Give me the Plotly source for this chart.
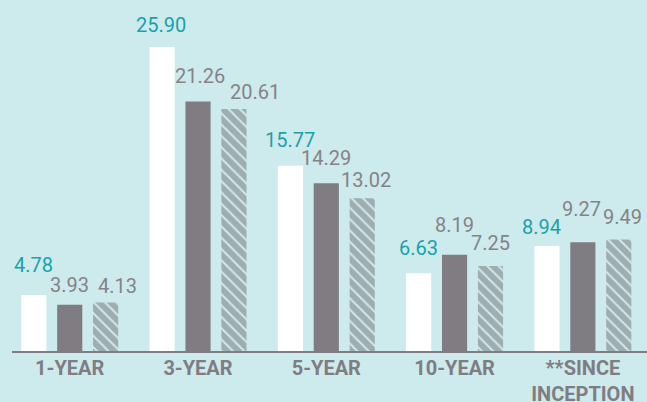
import plotly.graph_objects as go

categories = ["1-YEAR", "3-YEAR", "5-YEAR", "10-YEAR", "**SINCE<br>INCEPTION"]
fund = [4.78, 25.90, 15.77, 6.63, 8.94]
index_a = [3.93, 21.26, 14.29, 8.19, 9.27]
index_b = [4.13, 20.61, 13.02, 7.25, 9.49]

BG = "#cdeaec"
GRAY = "#7f7d82"
TEAL = "#17a2ac"
LABEL_GRAY = "#858387"

# label placement tweaks (pixels): horizontal nudge and gap above bar
label_dx = [[0, -1, 0, 0, -5], [0, 2, 0, 0, -1], [12, 21, 4, 0, 4]]
label_gap = [[21, 13, 17, 16, 10], [11, 16, 16, 21, 24], [8, 8, 9, 14, 14]]

fig = go.Figure()
fig.add_trace(go.Bar(x=categories, y=fund, marker=dict(color="white", line=dict(width=0))))
fig.add_trace(go.Bar(x=categories, y=index_a, marker=dict(color=GRAY, line=dict(width=0))))
fig.add_trace(go.Bar(x=categories, y=index_b,
                     marker=dict(color=BG, line=dict(width=0),
                                 pattern=dict(shape="\\", fgcolor="#727075", bgcolor=BG,
                                              size=8, solidity=0.75))))

series = [(fund, TEAL, -36), (index_a, LABEL_GRAY, 0), (index_b, LABEL_GRAY, 36)]
for si, (vals, col, xs) in enumerate(series):
    for ci, (c, v) in enumerate(zip(categories, vals)):
        fig.add_annotation(x=c, y=v, text=f"{v:.2f}", showarrow=False,
                           xref="x", yref="y",
                           xshift=xs + label_dx[si][ci],
                           yshift=label_gap[si][ci] - 5,
                           yanchor="bottom", xanchor="center",
                           font=dict(family="Roboto", size=20, color=col))

fig.update_layout(
    width=647, height=402,
    margin=dict(l=12, r=0, t=0, b=51),
    paper_bgcolor=BG, plot_bgcolor=BG,
    barmode="group", bargap=0.16, bargroupgap=0.3,
    showlegend=False,
    xaxis=dict(range=[-0.45, 4.5], showline=True, linecolor=GRAY, linewidth=2,
               ticks="", showgrid=False, zeroline=False, automargin=False,
               ticklabelstandoff=-2,
               tickfont=dict(family="Roboto", size=20, color=GRAY, weight="bold")),
    yaxis=dict(range=[0, 29.9], visible=False, showgrid=False, zeroline=False,
               automargin=False),
)

fig.write_html("out.html")
